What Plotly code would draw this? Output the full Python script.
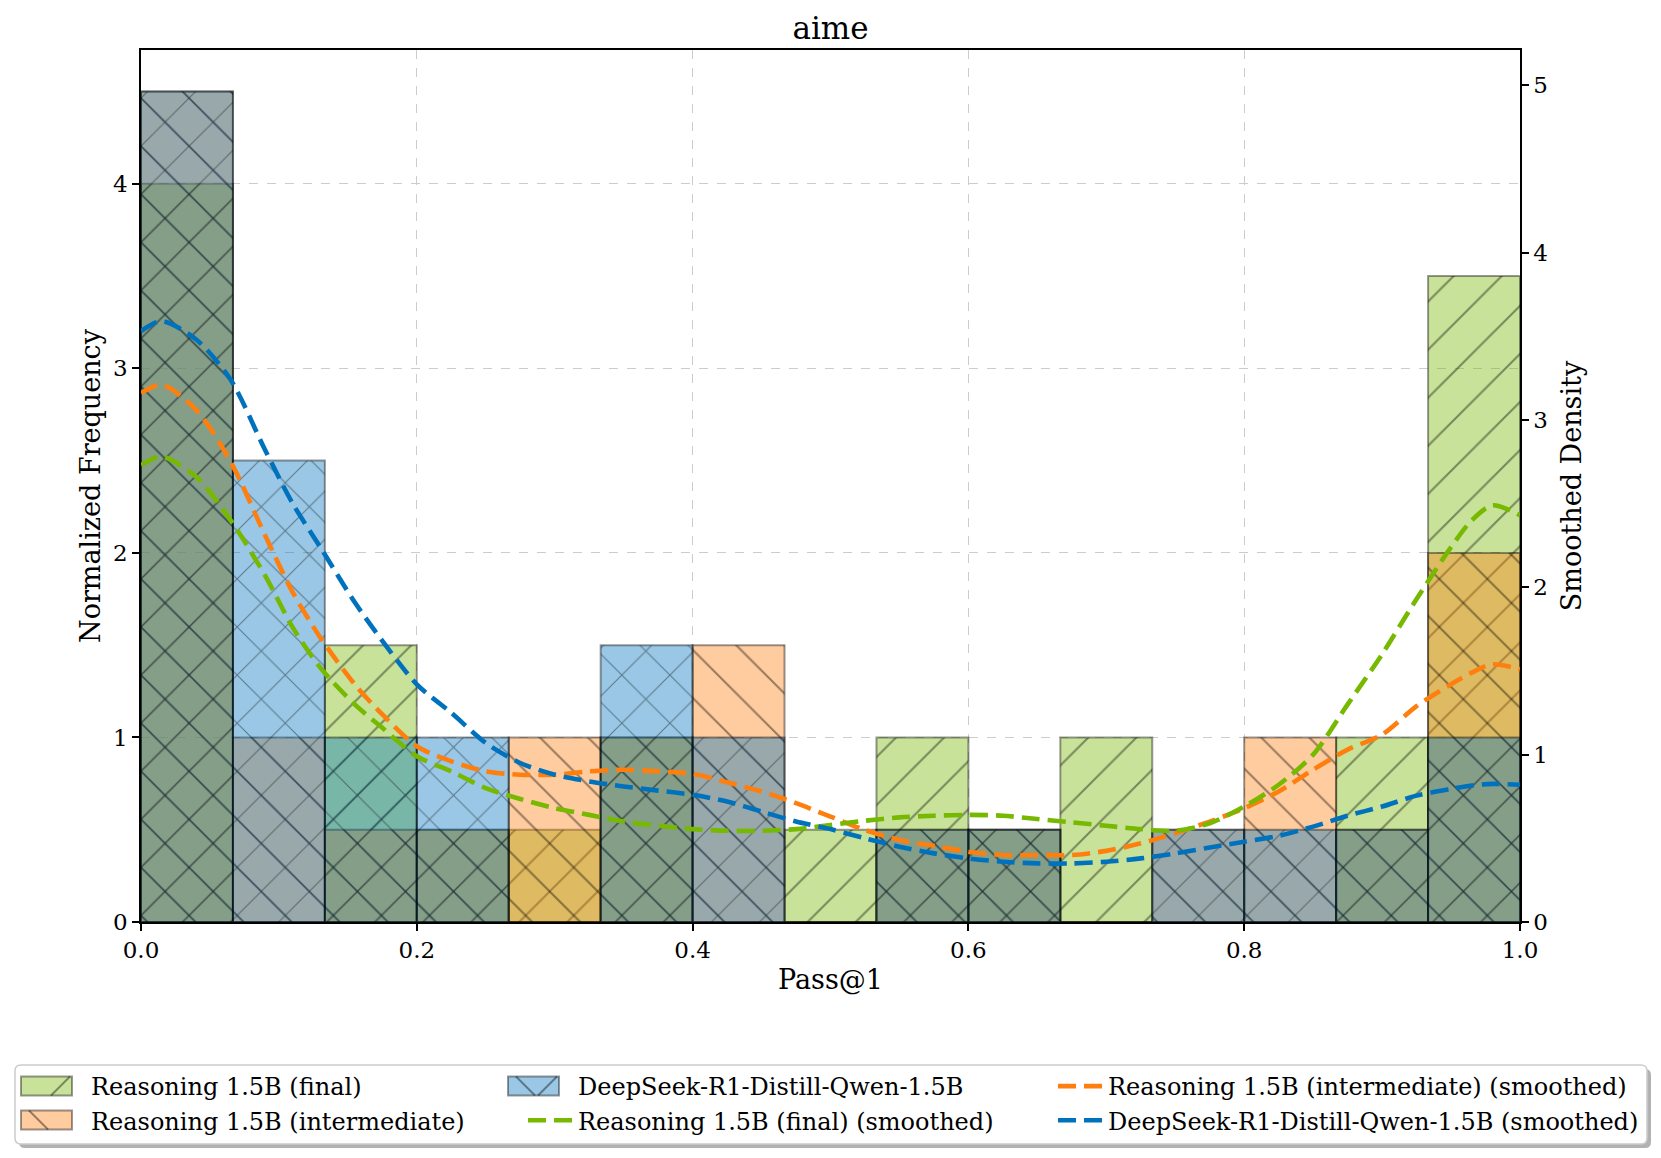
import numpy as np
import plotly.graph_objects as go

# ---------------- data ----------------
n_bins = 15
final_freq = [4.0, 0.0, 1.5, 0.5, 0.5, 1.0, 0.0, 0.5, 1.0, 0.5, 1.0, 0.0, 0.0, 1.0, 3.5]
inter_freq = [4.5, 1.0, 0.5, 0.5, 1.0, 1.0, 1.5, 0.0, 0.5, 0.5, 0.0, 0.5, 1.0, 0.5, 2.0]
ds_freq = [4.5, 2.5, 1.0, 1.0, 0.0, 1.5, 1.0, 0.0, 0.5, 0.5, 0.0, 0.5, 0.5, 0.5, 1.0]

kde_x = [0.0, 0.015, 0.04, 0.065, 0.09, 0.11, 0.13, 0.155, 0.175, 0.2, 0.225, 0.25,
         0.275, 0.3, 0.325, 0.35, 0.375, 0.4, 0.425, 0.45, 0.475, 0.5, 0.525, 0.55,
         0.575, 0.6, 0.625, 0.65, 0.675, 0.7, 0.725, 0.75, 0.775, 0.8, 0.825, 0.85,
         0.875, 0.9, 0.925, 0.95, 0.965, 0.98, 1.0]
kde_ds = [3.53, 3.59, 3.48, 3.24, 2.82, 2.50, 2.24, 1.91, 1.68, 1.42, 1.25, 1.07,
          0.95, 0.88, 0.84, 0.81, 0.785, 0.76, 0.72, 0.66, 0.60, 0.555, 0.50, 0.45,
          0.41, 0.38, 0.36, 0.35, 0.35, 0.36, 0.38, 0.41, 0.445, 0.48, 0.515, 0.57,
          0.635, 0.69, 0.755, 0.795, 0.815, 0.825, 0.82]
kde_inter = [3.16, 3.21, 3.06, 2.75, 2.31, 1.97, 1.70, 1.42, 1.24, 1.05, 0.96, 0.90,
             0.88, 0.88, 0.90, 0.91, 0.90, 0.885, 0.835, 0.78, 0.71, 0.63, 0.55, 0.49,
             0.455, 0.42, 0.40, 0.40, 0.40, 0.425, 0.47, 0.53, 0.60, 0.68, 0.78, 0.91,
             1.03, 1.12, 1.29, 1.42, 1.49, 1.54, 1.51]
kde_final = [2.73, 2.78, 2.66, 2.40, 2.07, 1.76, 1.52, 1.30, 1.16, 0.99, 0.90, 0.80,
             0.735, 0.68, 0.64, 0.60, 0.575, 0.555, 0.545, 0.545, 0.555, 0.58, 0.605, 0.625,
             0.635, 0.64, 0.635, 0.615, 0.595, 0.575, 0.555, 0.545, 0.59, 0.69, 0.82, 1.00,
             1.30, 1.60, 1.93, 2.24, 2.40, 2.49, 2.43]

names_hist = ["Reasoning 1.5B (final)", "Reasoning 1.5B (intermediate)", "DeepSeek-R1-Distill-Qwen-1.5B"]
x_ticks = [0.0, 0.2, 0.4, 0.6, 0.8, 1.0]
y_ticks = [0, 1, 2, 3, 4]
y2_ticks = [0, 1, 2, 3, 4, 5]

GREEN = (118, 185, 0)
ORANGE = (255, 127, 14)
BLUE = (0, 114, 189)

edges = np.linspace(0, 1, n_bins + 1)
centers = (edges[:-1] + edges[1:]) / 2
width = edges[1] - edges[0]

FONT = "DejaVu Serif"

W, H = 1661, 1158
L, R, T, B = 141, 141, 50, 236
pw, ph = W - L - R, H - T - B


def rgba(c, a):
    return f"rgba({c[0]},{c[1]},{c[2]},{a})"


def px_x(px):
    return (px - L) / pw


def px_y(py):
    return (H - B - py) / ph


fig = go.Figure()

# legend geometry (pixels)
col_x = [36, 523, 1053]          # legend anchors for the three columns
row_y = [1086, 1120]             # row centres
patch_x0 = [21, 508]             # patch left edges for bar entries
patch_w, patch_h = 51, 19

# histograms: (values, name, colour, hatch, legend, rank, patch column, patch row)
hist_specs = [
    (final_freq, names_hist[0], GREEN, "/", "legend", 1, 0, 0),
    (inter_freq, names_hist[1], ORANGE, "\\", "legend", 2, 0, 1),
    (ds_freq, names_hist[2], BLUE, "x", "legend2", 1, 1, 0),
]
for vals, name, col, shape, lg, rank, pc, pr in hist_specs:
    fig.add_trace(go.Bar(
        x=centers, y=vals, width=width, name=name, showlegend=False,
        marker=dict(
            color=rgba(col, 0.4),
            line=dict(color="rgba(0,0,0,0.4)", width=2),
            pattern=dict(shape=shape, fillmode="overlay", fgcolor="black",
                         fgopacity=0.4, size=34, solidity=0.06),
        ),
        yaxis="y",
    ))
    # legend entry (text only) + patch drawn as shapes
    fig.add_trace(go.Scatter(
        x=[None], y=[None], mode="lines", name=name, legend=lg, legendrank=rank,
        line=dict(width=0, color="rgba(0,0,0,0)"), hoverinfo="skip",
    ))

line_specs = [
    (kde_inter, names_hist[1] + " (smoothed)", ORANGE, "legend3", 1),
    (kde_final, names_hist[0] + " (smoothed)", GREEN, "legend2", 2),
    (kde_ds, names_hist[2] + " (smoothed)", BLUE, "legend3", 2),
]
for vals, name, col, lg, rank in line_specs:
    fig.add_trace(go.Scatter(
        x=kde_x, y=vals, mode="lines", name=name, legend=lg, legendrank=rank,
        line=dict(color=rgba(col, 1), width=4.6, dash="18px,8px", shape="spline", smoothing=0.8),
        yaxis="y2",
    ))

# legend frame with shadow (matplotlib style)
lx0, lx1, ly0, ly1 = 15, 1647, 1065, 1144
off = 4
rad = 6


def rounded_path(x0, y0, x1, y1, r):
    X = px_x
    Y = px_y
    return (f"M{X(x0 + r)},{Y(y0)} L{X(x1 - r)},{Y(y0)} Q{X(x1)},{Y(y0)} {X(x1)},{Y(y0 + r)} "
            f"L{X(x1)},{Y(y1 - r)} Q{X(x1)},{Y(y1)} {X(x1 - r)},{Y(y1)} "
            f"L{X(x0 + r)},{Y(y1)} Q{X(x0)},{Y(y1)} {X(x0)},{Y(y1 - r)} "
            f"L{X(x0)},{Y(y0 + r)} Q{X(x0)},{Y(y0)} {X(x0 + r)},{Y(y0)} Z")


fig.add_shape(type="path", xref="paper", yref="paper",
              path=rounded_path(lx0 + off, ly0 + off, lx1 + off, ly1 + off, rad),
              fillcolor="rgba(0,0,0,0.3)", line=dict(width=0), layer="above")
fig.add_shape(type="path", xref="paper", yref="paper",
              path=rounded_path(lx0, ly0, lx1, ly1, rad),
              fillcolor="white", line=dict(color="#cccccc", width=1.5), layer="above")

# legend patches for histogram entries
for vals, name, col, shape, lg, rank, pc, pr in hist_specs:
    x0 = patch_x0[pc]
    x1 = x0 + patch_w
    y0 = row_y[pr] - patch_h / 2
    y1 = row_y[pr] + patch_h / 2
    fig.add_shape(type="rect", xref="paper", yref="paper",
                  x0=px_x(x0), x1=px_x(x1), y0=px_y(y1), y1=px_y(y0),
                  fillcolor=rgba(col, 0.4), line=dict(color="rgba(0,0,0,0.4)", width=2),
                  layer="above")
    hatch_lines = []
    if shape in ("/", "x"):
        hatch_lines.append((x0 + 30, y1, x0 + 30 + patch_h, y0))
    if shape in ("\\", "x"):
        hatch_lines.append((x0 + 8, y0, x0 + 8 + patch_h, y1))
    for hx0, hy0, hx1, hy1 in hatch_lines:
        fig.add_shape(type="line", xref="paper", yref="paper",
                      x0=px_x(hx0), y0=px_y(hy0), x1=px_x(hx1), y1=px_y(hy1),
                      line=dict(color="rgba(0,0,0,0.4)", width=2), layer="above")

legend_common = dict(
    orientation="v", xref="paper", yref="paper", xanchor="left", yanchor="top",
    traceorder="normal", itemwidth=45, bgcolor="rgba(0,0,0,0)", borderwidth=0,
    font=dict(family=FONT, size=24, color="black"), tracegroupgap=0,
)
leg_top = px_y(1064)

fig.update_layout(
    width=W, height=H,
    margin=dict(l=L, r=R, t=T, b=B),
    paper_bgcolor="white", plot_bgcolor="white",
    barmode="overlay",
    font=dict(family=FONT, size=23, color="black"),
    title=dict(text="aime", x=0.5, xanchor="center", y=1 - 28.6 / H, yanchor="middle",
               font=dict(family=FONT, size=31, color="black")),
    xaxis=dict(
        range=[0, 1], tickvals=x_ticks, tickformat=".1f",
        showline=True, linecolor="black", linewidth=1.5, mirror=True,
        ticks="outside", ticklen=7, tickwidth=1.5, tickcolor="black",
        showgrid=True, gridcolor="#cccccc", griddash="dash", gridwidth=1,
        zeroline=False,
        title=dict(text="Pass@1", font=dict(size=27), standoff=8),
    ),
    yaxis=dict(
        range=[0, 4.725], tickvals=y_ticks,
        showline=True, linecolor="black", linewidth=1.5,
        ticks="outside", ticklen=7, tickwidth=1.5, tickcolor="black",
        showgrid=True, gridcolor="#cccccc", griddash="dash", gridwidth=1,
        zeroline=False,
        title=dict(text="Normalized Frequency", font=dict(size=27), standoff=5),
    ),
    yaxis2=dict(
        range=[0, 5.21], tickvals=y2_ticks, overlaying="y", side="right",
        showline=True, linecolor="black", linewidth=1.5,
        ticks="outside", ticklen=7, tickwidth=1.5, tickcolor="black",
        showgrid=False, zeroline=False,
        title=dict(text="Smoothed Density", font=dict(size=27), standoff=15),
    ),
    legend=dict(x=px_x(col_x[0]), y=leg_top, **legend_common),
    legend2=dict(x=px_x(col_x[1]), y=leg_top, **legend_common),
    legend3=dict(x=px_x(col_x[2]), y=leg_top, **legend_common),
)

fig.write_html("out.html", post_script="document.body.style.margin='0px';",
               config={"displayModeBar": False})
